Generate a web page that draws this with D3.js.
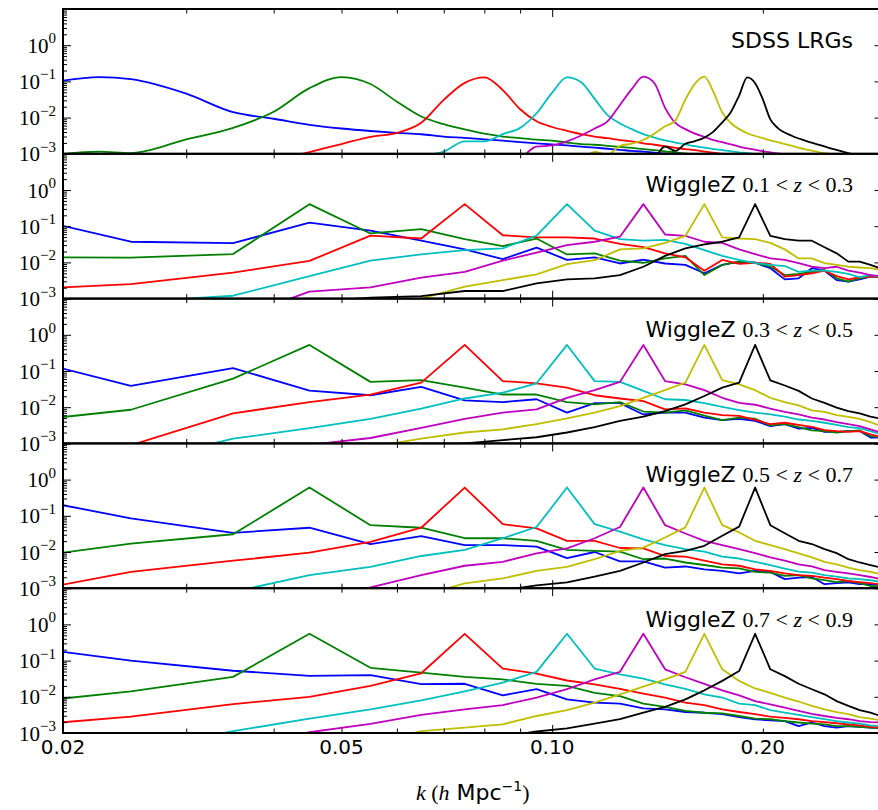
<!DOCTYPE html>
<html><head><meta charset="utf-8">
<script src="https://cdn.jsdelivr.net/npm/d3@7"></script>
<style>body{margin:0;background:#fff}svg{display:block}</style>
</head><body>
<svg id="chart" width="878" height="810"></svg>
<script>
// ---------------- DATA ----------------
const seriesColors = ["#0000ff","#008000","#ff0000","#00bfbf","#bf00bf","#bfbf00","#000000"];
const panelTitles = ["SDSS LRGs", "WiggleZ|0.1|0.3", "WiggleZ|0.3|0.5", "WiggleZ|0.5|0.7", "WiggleZ|0.7|0.9"];
const xTickValues = [0.02, 0.05, 0.10, 0.20];
const xTickLabels = ["0.02", "0.05", "0.10", "0.20"];
const yTickExponents = [0, -1, -2, -3];

// SDSS LRGs window functions (smooth)
const sdssK = [0.02,0.0225,0.025,0.03,0.035,0.04,0.045,0.05,0.055,0.06,0.065,0.07,0.075,0.08,0.085,0.09,0.095,0.10,0.105,0.11,0.115,0.12,0.125,0.13,0.135,0.14,0.145,0.15,0.155,0.16,0.165,0.17,0.175,0.18,0.185,0.19,0.195,0.20,0.205,0.21,0.22,0.23,0.24,0.25,0.26,0.27,0.28,0.29,0.30];
const sdssBlue = [1.05e-1,1.32e-1,1.15e-1,4.57e-2,1.41e-2,9.3e-3,6.3e-3,5.0e-3,4.27e-3,3.8e-3,3.47e-3,3.0e-3,2.75e-3,2.5e-3,2.3e-3,2.1e-3,1.95e-3,1.82e-3,1.7e-3,1.58e-3,1.48e-3,1.38e-3,1.29e-3,1.2e-3,1.15e-3,1.07e-3,1.02e-3,9.5e-4,8.9e-4,null,null,null,null,null,null,null,null,null,null,null,null,null,null,null,null,null,null,null,null];
const sdssGreen = [1.0e-3,1.15e-3,1.05e-3,2.5e-3,5.2e-3,1.45e-2,6.5e-2,1.32e-1,8.5e-2,2.75e-2,1.07e-2,6.6e-3,4.7e-3,3.6e-3,3.0e-3,2.7e-3,2.45e-3,2.3e-3,2.05e-3,1.86e-3,1.78e-3,1.66e-3,1.55e-3,1.45e-3,1.35e-3,1.26e-3,1.17e-3,1.1e-3,1.02e-3,9.5e-4,8.9e-4,null,null,null,null,null,null,null,null,null,null,null,null,null,null,null,null,null,null];
const sdssRed = [null,null,null,null,null,6.3e-4,1.12e-3,1.86e-3,2.95e-3,3.8e-3,7.2e-3,3.1e-2,9.1e-2,1.29e-1,5.75e-2,1.7e-2,7.9e-3,5.5e-3,4.3e-3,3.5e-3,3.0e-3,2.7e-3,2.4e-3,2.2e-3,1.95e-3,1.78e-3,1.62e-3,1.45e-3,1.35e-3,1.26e-3,1.15e-3,1.07e-3,1.0e-3,9.1e-4,null,null,null,null,null,null,null,null,null,null,null,null,null,null,null];
const sdssCyan = [null,null,null,null,null,null,null,null,null,null,8.9e-4,1.15e-3,2.2e-3,2.2e-3,3.5e-3,5.2e-3,1.32e-2,4.9e-2,1.29e-1,9.5e-2,3.3e-2,1.17e-2,6.9e-3,4.8e-3,3.5e-3,2.8e-3,2.35e-3,2.05e-3,1.82e-3,1.62e-3,1.48e-3,1.35e-3,1.26e-3,1.17e-3,1.1e-3,1.05e-3,9.8e-4,9.1e-4,null,null,null,null,null,null,null,null,null,null,null];
const sdssMagenta = [null,null,null,null,null,null,null,null,null,null,null,null,null,null,null,6.3e-4,1.58e-3,1.7e-3,2.2e-3,3.2e-3,5.0e-3,7.9e-3,2.24e-2,6.2e-2,1.35e-1,8.9e-2,1.86e-2,7.1e-3,4.8e-3,3.6e-3,2.95e-3,2.4e-3,2.1e-3,1.82e-3,1.58e-3,1.41e-3,1.29e-3,1.17e-3,1.1e-3,1.02e-3,8.9e-4,null,null,null,null,null,null,null,null];
const sdssYellow = [null,null,null,null,null,null,null,null,null,null,null,null,null,null,null,null,null,null,null,6.3e-4,1.12e-3,9.5e-4,1.66e-3,1.9e-3,2.4e-3,3.6e-3,5.75e-3,8.3e-3,3.16e-2,8.7e-2,1.35e-1,5.1e-2,1.38e-2,7.1e-3,4.8e-3,3.7e-3,3.1e-3,2.7e-3,2.35e-3,2.1e-3,1.66e-3,1.32e-3,1.12e-3,9.8e-4,8.7e-4,null,null,null,null];
const sdssBlack = [null,null,null,null,null,null,null,null,null,null,null,null,null,null,null,null,null,null,null,null,null,null,null,null,null,6.3e-4,1.58e-3,1.2e-3,1.9e-3,2.24e-3,2.8e-3,4.1e-3,7.4e-3,1.41e-2,4.07e-2,1.29e-1,8.9e-2,3.2e-2,8.9e-3,5.2e-3,3.16e-3,2.3e-3,1.78e-3,1.41e-3,1.15e-3,9.5e-4,7.9e-4,null,null];

// WiggleZ binned window functions
const wzK = [0.015,0.025,0.035,0.045,0.055,0.065,0.075,0.085,0.095,0.105,0.115,0.125,0.135,0.145,0.155,0.165,0.175,0.185,0.195,0.205,0.215,0.225,0.235,0.245,0.255,0.265,0.275,0.285,0.295];

// 0.1 < z < 0.3
const wz1Blue = [3.72e-1,3.72e-2,3.39e-2,1.26e-1,7.59e-2,3.98e-2,2.29e-2,1.23e-2,2.57e-2,1.17e-2,1.38e-2,9.33e-3,1.20e-2,9.33e-3,8.51e-3,5.01e-3,8.51e-3,1.05e-2,9.77e-3,6.92e-3,3.39e-3,3.63e-3,6.92e-3,5.89e-3,3.24e-3,2.95e-3,3.39e-3,4.07e-3,4.07e-3];
const wz1Green = [1.41e-2,1.35e-2,1.70e-2,4.07e-1,6.31e-2,8.32e-2,4.37e-2,2.82e-2,4.57e-2,1.66e-2,1.78e-2,1.12e-2,9.77e-3,1.29e-2,1.51e-2,4.47e-3,8.51e-3,1.05e-2,9.77e-3,7.59e-3,4.47e-3,4.79e-3,5.50e-3,6.17e-3,3.63e-3,2.95e-3,3.63e-3,4.07e-3,4.07e-3];
const wz1Red = [1.55e-3,2.51e-3,5.25e-3,1.10e-2,5.50e-2,4.57e-2,4.07e-1,5.62e-2,4.90e-2,4.90e-2,4.57e-2,3.24e-2,2.63e-2,1.78e-2,1.38e-2,5.89e-3,1.17e-2,9.12e-3,9.77e-3,9.12e-3,4.07e-3,4.47e-3,5.01e-3,5.89e-3,4.17e-3,3.39e-3,3.89e-3,4.07e-3,4.07e-3];
const wz1Cyan = [null,7.94e-4,1.20e-3,4.17e-3,1.12e-2,1.66e-2,2.19e-2,2.45e-2,5.50e-2,4.07e-1,7.59e-2,4.37e-2,3.98e-2,4.17e-2,3.24e-2,2.19e-2,1.51e-2,1.17e-2,9.55e-3,8.51e-3,7.94e-3,5.50e-3,5.89e-3,5.89e-3,5.50e-3,4.79e-3,3.89e-3,4.47e-3,4.07e-3];
const wz1Magenta = [null,1.26e-4,2.75e-4,1.55e-3,2.04e-3,3.80e-3,5.50e-3,1.12e-2,1.86e-2,3.02e-2,3.72e-2,5.13e-2,4.07e-1,5.89e-2,5.37e-2,3.72e-2,3.47e-2,2.29e-2,1.70e-2,1.29e-2,1.17e-2,9.55e-3,7.59e-3,6.92e-3,7.59e-3,5.89e-3,5.25e-3,4.47e-3,4.17e-3];
const wz1Yellow = [null,null,null,null,4.17e-4,1.00e-3,2.14e-3,3.24e-3,4.68e-3,8.91e-3,1.15e-2,2.29e-2,2.45e-2,3.47e-2,5.37e-2,4.07e-1,4.90e-2,4.57e-2,4.37e-2,3.47e-2,2.29e-2,1.29e-2,1.29e-2,9.55e-3,8.51e-3,7.59e-3,7.24e-3,6.92e-3,6.17e-3];
const wz1Black = [null,null,5.01e-4,7.94e-4,1.07e-3,1.17e-3,1.62e-3,1.62e-3,2.63e-3,3.39e-3,3.63e-3,4.47e-3,7.59e-3,1.51e-2,2.45e-2,3.16e-2,3.72e-2,4.90e-2,4.07e-1,5.37e-2,4.37e-2,3.98e-2,3.98e-2,2.63e-2,1.78e-2,1.05e-2,1.05e-2,8.51e-3,6.76e-3];

// 0.3 < z < 0.5
const wz2Blue = [4.79e-1,3.89e-2,1.20e-1,2.88e-2,2.14e-2,3.63e-2,1.55e-2,1.38e-2,1.66e-2,7.08e-3,1.29e-2,1.29e-2,6.31e-3,7.08e-3,7.08e-3,5.13e-3,4.37e-3,4.79e-3,4.17e-3,3.02e-3,3.39e-3,2.57e-3,2.69e-3,2.09e-3,2.09e-3,2.19e-3,2.19e-3,1.45e-3,1.45e-3];
const wz2Green = [2.95e-3,8.51e-3,6.17e-2,5.25e-1,5.01e-2,5.62e-2,3.47e-2,2.24e-2,2.24e-2,1.38e-2,1.20e-2,1.38e-2,7.59e-3,7.08e-3,8.13e-3,5.89e-3,4.37e-3,5.13e-3,4.79e-3,3.16e-3,3.39e-3,2.82e-3,2.29e-3,2.19e-3,2.00e-3,2.19e-3,2.29e-3,1.58e-3,1.45e-3];
const wz2Red = [2.51e-4,8.91e-4,6.76e-3,1.38e-2,2.24e-2,4.79e-2,5.25e-1,5.25e-2,4.57e-2,3.47e-2,2.14e-2,1.74e-2,1.48e-2,8.71e-3,9.33e-3,7.08e-3,6.03e-3,5.75e-3,4.47e-3,3.39e-3,3.72e-3,3.24e-3,2.88e-3,2.34e-3,2.19e-3,2.09e-3,2.19e-3,1.78e-3,1.51e-3];
const wz2Cyan = [null,2.82e-4,1.35e-3,2.63e-3,4.79e-3,9.12e-3,1.74e-2,2.51e-2,4.57e-2,5.25e-1,5.25e-2,5.01e-2,2.82e-2,1.66e-2,1.58e-2,1.29e-2,1.02e-2,8.32e-3,7.08e-3,6.31e-3,5.50e-3,4.57e-3,4.17e-3,3.72e-3,3.24e-3,2.82e-3,2.63e-3,2.19e-3,1.78e-3];
const wz2Magenta = [null,null,3.16e-4,9.12e-4,1.41e-3,2.69e-3,4.79e-3,7.08e-3,8.71e-3,1.82e-2,2.95e-2,5.01e-2,5.25e-1,5.25e-2,4.27e-2,2.95e-2,1.82e-2,1.32e-2,1.17e-2,9.12e-3,7.41e-3,6.31e-3,5.13e-3,4.57e-3,3.89e-3,3.39e-3,3.02e-3,2.45e-3,2.00e-3];
const wz2Yellow = [null,null,null,3.16e-4,7.94e-4,1.35e-3,2.00e-3,2.45e-3,3.39e-3,4.90e-3,7.08e-3,1.07e-2,1.82e-2,2.95e-2,4.79e-2,5.25e-1,5.62e-2,4.27e-2,2.95e-2,1.82e-2,1.38e-2,1.12e-2,8.13e-3,7.41e-3,6.03e-3,5.37e-3,4.79e-3,3.89e-3,3.02e-3];
const wz2Black = [null,null,null,null,5.01e-4,7.94e-4,1.00e-3,1.23e-3,1.48e-3,2.00e-3,2.82e-3,4.17e-3,5.50e-3,7.76e-3,1.20e-2,2.04e-2,3.47e-2,4.79e-2,5.25e-1,5.50e-2,3.98e-2,2.82e-2,1.74e-2,1.32e-2,9.77e-3,7.76e-3,6.76e-3,5.50e-3,4.79e-3];

// 0.5 < z < 0.7
const wz3Blue = [5.75e-1,8.51e-2,3.39e-2,4.68e-2,1.66e-2,2.75e-2,1.55e-2,1.55e-2,1.41e-2,6.76e-3,1.00e-2,5.50e-3,5.50e-3,3.72e-3,3.98e-3,3.31e-3,3.02e-3,2.57e-3,3.02e-3,2.82e-3,1.78e-3,1.95e-3,2.04e-3,1.29e-3,1.38e-3,1.45e-3,1.29e-3,1.29e-3,1.23e-3];
const wz3Green = [4.57e-3,1.70e-2,3.09e-2,6.03e-1,5.50e-2,4.68e-2,2.40e-2,2.40e-2,2.04e-2,1.15e-2,1.07e-2,1.02e-2,6.31e-3,6.61e-3,5.13e-3,4.37e-3,3.72e-3,3.55e-3,2.82e-3,2.69e-3,2.19e-3,2.29e-3,1.86e-3,1.66e-3,1.48e-3,1.58e-3,1.38e-3,1.15e-3,1.12e-3];
const wz3Red = [4.47e-4,2.82e-3,5.75e-3,9.55e-3,1.91e-2,4.68e-2,6.03e-1,5.89e-2,4.47e-2,2.04e-2,2.04e-2,1.29e-2,1.26e-2,7.76e-3,7.41e-3,5.75e-3,4.57e-3,4.17e-3,3.31e-3,3.02e-3,2.57e-3,2.29e-3,2.19e-3,1.95e-3,1.78e-3,1.58e-3,1.48e-3,1.38e-3,1.26e-3];
const wz3Cyan = [null,2.51e-4,7.94e-4,2.29e-3,3.89e-3,7.76e-3,1.15e-2,2.40e-2,4.90e-2,6.03e-1,5.89e-2,3.63e-2,2.24e-2,1.55e-2,1.20e-2,1.02e-2,7.41e-3,6.61e-3,5.37e-3,4.37e-3,3.47e-3,2.88e-3,2.69e-3,2.29e-3,2.09e-3,1.86e-3,1.78e-3,1.66e-3,1.48e-3];
const wz3Magenta = [null,null,2.00e-4,5.01e-4,1.05e-3,2.29e-3,4.17e-3,5.37e-3,9.12e-3,1.26e-2,2.40e-2,4.90e-2,6.03e-1,5.50e-2,3.24e-2,2.04e-2,1.55e-2,1.20e-2,9.33e-3,7.08e-3,5.75e-3,4.57e-3,3.98e-3,3.16e-3,2.82e-3,2.57e-3,2.29e-3,2.04e-3,1.78e-3];
const wz3Yellow = [null,null,null,null,2.51e-4,6.31e-4,1.35e-3,1.86e-3,3.02e-3,3.89e-3,6.31e-3,1.07e-2,1.32e-2,2.51e-2,4.79e-2,6.03e-1,5.50e-2,3.47e-2,2.04e-2,1.55e-2,1.20e-2,9.12e-3,7.08e-3,5.37e-3,4.57e-3,3.72e-3,3.16e-3,2.82e-3,2.45e-3];
const wz3Black = [null,null,null,null,null,3.98e-4,6.31e-4,8.91e-4,1.20e-3,1.45e-3,2.09e-3,3.02e-3,5.13e-3,8.71e-3,1.07e-2,1.48e-2,2.82e-2,5.01e-2,6.03e-1,5.50e-2,3.31e-2,2.04e-2,1.66e-2,1.20e-2,9.33e-3,6.31e-3,5.13e-3,4.37e-3,3.72e-3];

// 0.7 < z < 0.9
const wz4Blue = [3.55e-1,1.00e-1,5.25e-2,3.80e-2,3.98e-2,2.24e-2,2.29e-2,1.10e-2,1.62e-2,8.51e-3,6.92e-3,6.46e-3,4.79e-3,4.47e-3,3.80e-3,3.63e-3,3.31e-3,2.75e-3,2.40e-3,2.24e-3,2.14e-3,1.55e-3,1.95e-3,1.55e-3,1.41e-3,1.55e-3,1.48e-3,1.41e-3,1.35e-3];
const wz4Green = [5.01e-3,1.41e-2,3.55e-2,5.50e-1,6.31e-2,4.68e-2,3.55e-2,3.02e-2,2.29e-2,2.00e-2,1.29e-2,1.05e-2,6.46e-3,5.25e-3,4.07e-3,3.63e-3,3.47e-3,2.95e-3,2.51e-3,2.40e-3,2.14e-3,1.95e-3,1.82e-3,1.74e-3,1.55e-3,1.55e-3,1.48e-3,1.41e-3,1.35e-3];
const wz4Red = [1.26e-3,2.82e-3,6.31e-3,1.00e-2,2.00e-2,4.47e-2,5.50e-1,6.03e-2,4.37e-2,2.82e-2,2.19e-2,1.66e-2,1.23e-2,9.55e-3,6.92e-3,5.89e-3,4.47e-3,3.80e-3,3.31e-3,2.82e-3,2.63e-3,2.40e-3,2.14e-3,2.00e-3,1.86e-3,1.74e-3,1.62e-3,1.48e-3,1.41e-3];
const wz4Cyan = [null,3.16e-4,1.12e-3,2.51e-3,4.47e-3,7.94e-3,1.41e-2,2.45e-2,4.90e-2,5.50e-1,6.03e-2,4.17e-2,3.16e-2,2.19e-2,1.66e-2,1.17e-2,9.55e-3,6.46e-3,5.89e-3,4.27e-3,3.63e-3,3.16e-3,2.75e-3,2.40e-3,2.14e-3,1.95e-3,1.82e-3,1.62e-3,1.55e-3];
const wz4Magenta = [null,null,3.16e-4,1.05e-3,1.78e-3,3.16e-3,4.47e-3,5.89e-3,9.55e-3,1.62e-2,3.02e-2,4.90e-2,5.50e-1,5.75e-2,3.47e-2,2.29e-2,1.51e-2,1.10e-2,7.59e-3,6.17e-3,5.01e-3,4.07e-3,3.39e-3,2.95e-3,2.63e-3,2.40e-3,2.14e-3,2.00e-3,1.95e-3];
const wz4Yellow = [null,null,null,null,5.01e-4,1.12e-3,1.41e-3,1.74e-3,2.95e-3,4.27e-3,6.92e-3,1.17e-2,1.91e-2,3.02e-2,4.90e-2,5.50e-1,5.75e-2,2.75e-2,1.70e-2,1.29e-2,9.55e-3,7.41e-3,5.62e-3,4.47e-3,3.80e-3,3.31e-3,2.75e-3,2.51e-3,2.24e-3];
const wz4Black = [null,null,null,null,null,null,5.01e-4,7.94e-4,1.10e-3,1.35e-3,1.82e-3,2.40e-3,3.63e-3,5.25e-3,8.51e-3,1.51e-2,2.75e-2,5.13e-2,5.50e-1,5.75e-2,3.72e-2,2.29e-2,1.62e-2,1.17e-2,7.59e-3,5.62e-3,4.27e-3,3.63e-3,2.95e-3];

// ---------------- LAYOUT ----------------
const panels = [
  {k: sdssK, smooth: true, series: [sdssBlue, sdssGreen, sdssRed, sdssCyan, sdssMagenta, sdssYellow, sdssBlack]},
  {k: wzK, smooth: false, series: [wz1Blue, wz1Green, wz1Red, wz1Cyan, wz1Magenta, wz1Yellow, wz1Black]},
  {k: wzK, smooth: false, series: [wz2Blue, wz2Green, wz2Red, wz2Cyan, wz2Magenta, wz2Yellow, wz2Black]},
  {k: wzK, smooth: false, series: [wz3Blue, wz3Green, wz3Red, wz3Cyan, wz3Magenta, wz3Yellow, wz3Black]},
  {k: wzK, smooth: false, series: [wz4Blue, wz4Green, wz4Red, wz4Cyan, wz4Magenta, wz4Yellow, wz4Black]}
];

const plotLeft = 63, plotRight = 882.5, plotTop = 9, panelH = 144.8;
const svg = d3.select("#chart");
const x = d3.scaleLog().domain([0.02, 0.2965]).range([plotLeft, plotRight]);

const sansFont = "'DejaVu Sans', sans-serif";
const serifFont = "'Liberation Serif', 'DejaVu Serif', serif";

const yMajor = [1e-3, 1e-2, 1e-1, 1e0, 1e1];
const yMinor = [];
[-3, -2, -1, 0].forEach(e => { for (let m = 2; m <= 9; m++) yMinor.push(m * Math.pow(10, e)); });
const xMajor = [0.1];
const xMinor = [0.02,0.03,0.04,0.05,0.06,0.07,0.08,0.09,0.2];

panels.forEach((p, i) => {
  const top = plotTop + i * panelH, bottom = top + panelH;
  const y = d3.scaleLog().domain([1e-3, 1e1]).range([bottom, top]);
  const g = svg.append("g");
  const clipId = "clip" + i;
  svg.append("clipPath").attr("id", clipId).append("rect")
    .attr("x", plotLeft).attr("y", top).attr("width", plotRight - plotLeft).attr("height", panelH);

  const line = d3.line().defined(d => d[1] != null).x(d => x(d[0])).y(d => y(d[1]));
  if (p.smooth) line.curve(d3.curveMonotoneX);

  const lines = g.append("g").attr("clip-path", `url(#${clipId})`);
  p.series.forEach((vals, s) => {
    lines.append("path")
      .datum(p.k.map((kk, j) => [kk, vals[j]]))
      .attr("d", line)
      .attr("fill", "none")
      .attr("stroke", seriesColors[s])
      .attr("stroke-width", 1.8)
      .attr("stroke-linejoin", "round");
  });

  // ticks (inward on all four sides)
  const mk = (axis, tx, ty) => {
    const a = g.append("g").attr("transform", `translate(${tx},${ty})`).call(axis);
    a.select(".domain").remove();
    a.selectAll("line").attr("stroke", "#000").attr("stroke-width", 1);
    a.selectAll("text").remove();
  };
  mk(d3.axisLeft(y).tickValues(yMajor).tickSize(-8).tickFormat(""), plotLeft, 0);
  mk(d3.axisLeft(y).tickValues(yMinor).tickSize(-4).tickFormat(""), plotLeft, 0);
  mk(d3.axisRight(y).tickValues(yMajor).tickSize(-8).tickFormat(""), plotRight, 0);
  mk(d3.axisRight(y).tickValues(yMinor).tickSize(-4).tickFormat(""), plotRight, 0);
  mk(d3.axisBottom(x).tickValues(xMajor).tickSize(-8).tickFormat(""), 0, bottom);
  mk(d3.axisBottom(x).tickValues(xMinor).tickSize(-4.5).tickFormat(""), 0, bottom);
  mk(d3.axisTop(x).tickValues(xMajor).tickSize(-8).tickFormat(""), 0, top);
  mk(d3.axisTop(x).tickValues(xMinor).tickSize(-4.5).tickFormat(""), 0, top);

  // frame
  g.append("rect").attr("x", plotLeft).attr("y", top)
    .attr("width", plotRight - plotLeft).attr("height", panelH)
    .attr("fill", "none").attr("stroke", "#000").attr("stroke-width", 2);

  // y tick labels
  yTickExponents.forEach(e => {
    const t = g.append("text").attr("x", 56).attr("y", y(Math.pow(10, e)) + 7.5)
      .attr("text-anchor", "end").attr("font-family", serifFont).attr("font-size", 21).attr("fill", "#000");
    t.append("tspan").text("10");
    t.append("tspan").attr("dy", -9.5).attr("font-size", 15).text(e === 0 ? "0" : "\u2212" + (-e));
  });

  // panel title
  const title = panelTitles[i];
  const tt = g.append("text").attr("x", 853).attr("y", top + 38.5)
    .attr("text-anchor", "end").attr("font-size", 22).attr("fill", "#000");
  if (title.indexOf("|") < 0) {
    tt.attr("font-family", sansFont).text(title);
  } else {
    const parts = title.split("|");
    tt.append("tspan").attr("font-family", sansFont).text(parts[0] + " ");
    tt.append("tspan").attr("font-family", serifFont).text(parts[1] + " < ");
    tt.append("tspan").attr("font-family", serifFont).attr("font-style", "italic").text("z");
    tt.append("tspan").attr("font-family", serifFont).text(" < " + parts[2]);
  }
});

// x tick labels
const lastBottom = plotTop + panels.length * panelH;
xTickValues.forEach((v, i) => {
  svg.append("text").attr("x", x(v)).attr("y", lastBottom + 21)
    .attr("text-anchor", "middle").attr("font-family", sansFont).attr("font-size", 20)
    .attr("fill", "#000").text(xTickLabels[i]);
});

// x axis label
const xl = svg.append("text").attr("x", (plotLeft + plotRight) / 2).attr("y", 800)
  .attr("text-anchor", "middle").attr("font-size", 22).attr("fill", "#000");
xl.append("tspan").attr("font-family", serifFont).attr("font-style", "italic").text("k");
xl.append("tspan").attr("font-family", serifFont).text(" (");
xl.append("tspan").attr("font-family", serifFont).attr("font-style", "italic").text("h");
xl.append("tspan").attr("font-family", sansFont).text(" Mpc");
xl.append("tspan").attr("font-family", sansFont).attr("font-size", 14).attr("dy", -9).text("\u22121");
xl.append("tspan").attr("font-family", serifFont).attr("dy", 9).text(")");
</script>
</body></html>
